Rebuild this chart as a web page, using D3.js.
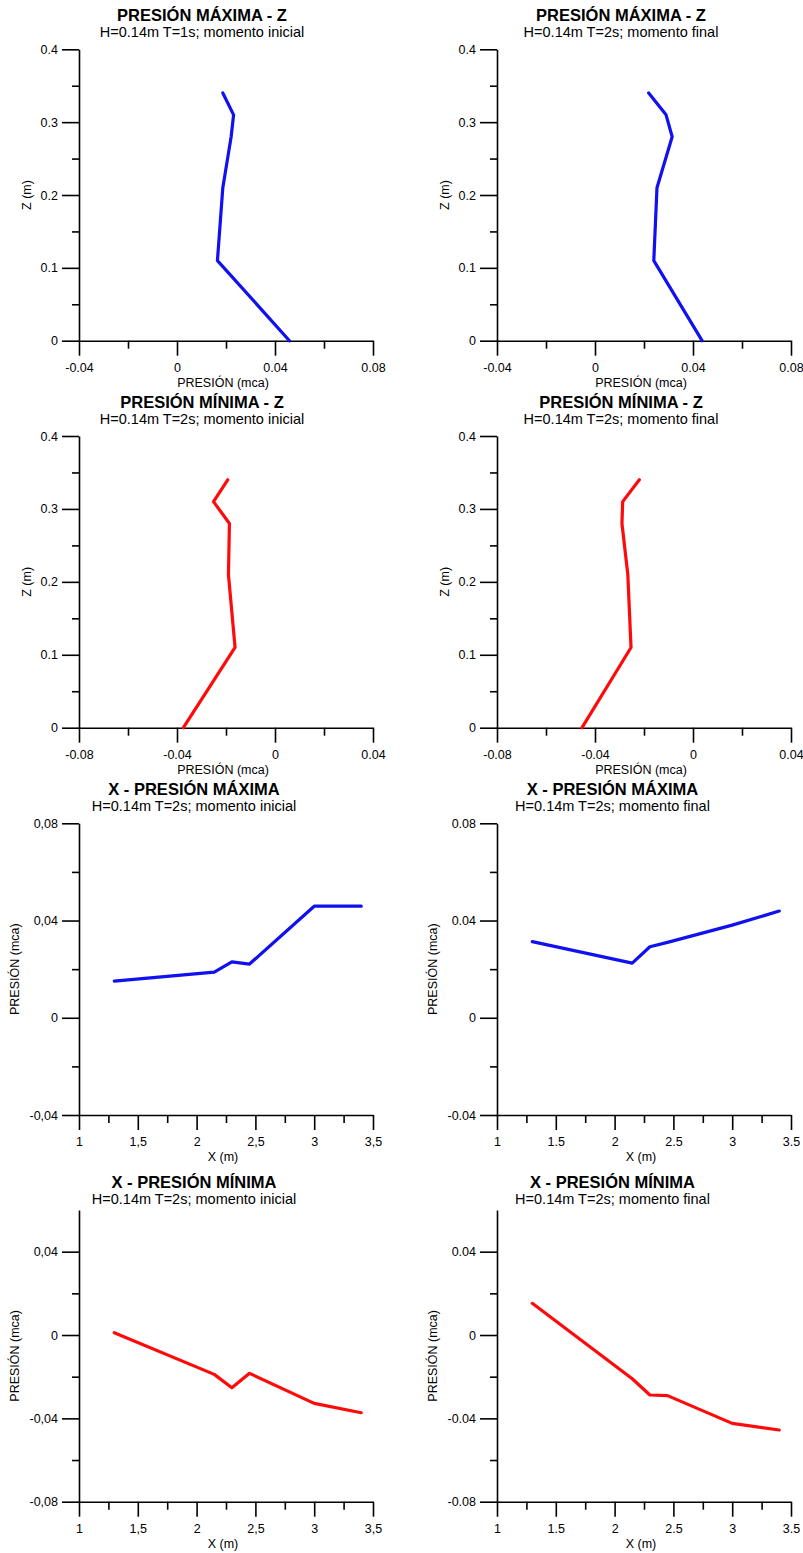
<!DOCTYPE html>
<html>
<head>
<meta charset="utf-8">
<script src="https://cdn.jsdelivr.net/npm/d3@7"></script>
<style>
  html, body { margin: 0; padding: 0; background: #fff; }
  svg { display: block; }
  text { font-family: "Liberation Sans", Arial, sans-serif; fill: #000; }
</style>
</head>
<body>
<svg id="chart" width="803" height="1553"></svg>
<script>
// ---------------- DATA ----------------
// Vertical profiles (Z in m) — pressure in mca
const zLevels = [0, 0.11, 0.21, 0.28, 0.31, 0.34];
const pMaxZInicial = [0.0459, 0.0165, 0.0187, 0.0221, 0.0231, 0.0187];
const pMaxZFinal   = [0.0437, 0.0240, 0.0253, 0.0315, 0.0290, 0.0219];
const pMinZInicial = [-0.0374, -0.0163, -0.0190, -0.0186, -0.0251, -0.0193];
const pMinZFinal   = [-0.0453, -0.0253, -0.0266, -0.0290, -0.0287, -0.0219];

// Horizontal profiles (X in m) — pressure in mca
const xPositions  = [1.3, 2.15, 2.3, 2.45, 3.0, 3.4];
const xMaxInicial = [0.0151, 0.0188, 0.0230, 0.0221, 0.0459, 0.0459];
const xMaxFinal   = [0.0313, 0.0225, 0.0292, 0.0310, 0.0381, 0.0439];
const xMinInicial = [0.0011, -0.0189, -0.0253, -0.0184, -0.0328, -0.0373];
const xMinFinal   = [0.0152, -0.0210, -0.0288, -0.0291, -0.0424, -0.0456];

// Titles
const titles = [
  "PRESIÓN MÁXIMA - Z", "PRESIÓN MÁXIMA - Z",
  "PRESIÓN MÍNIMA - Z", "PRESIÓN MÍNIMA - Z",
  "X - PRESIÓN MÁXIMA", "X - PRESIÓN MÁXIMA",
  "X - PRESIÓN MÍNIMA", "X - PRESIÓN MÍNIMA"
];
const subtitles = [
  "H=0.14m T=1s; momento inicial", "H=0.14m T=2s; momento final",
  "H=0.14m T=2s; momento inicial", "H=0.14m T=2s; momento final",
  "H=0.14m T=2s; momento inicial", "H=0.14m T=2s; momento final",
  "H=0.14m T=2s; momento inicial", "H=0.14m T=2s; momento final"
];
const xAxisTitles = ["PRESIÓN (mca)", "PRESIÓN (mca)", "X (m)", "X (m)"];
const yAxisTitles = ["Z (m)", "Z (m)", "PRESIÓN (mca)", "PRESIÓN (mca)"];

// Ticks
const zTicks = [0, 0.1, 0.2, 0.3, 0.4];
const zTickLabels = ["0", "0.1", "0.2", "0.3", "0.4"];
const zMinorTicks = [0.05, 0.15, 0.25, 0.35];

const pMaxTicks = [-0.04, 0, 0.04, 0.08];
const pMaxTickLabels = ["-0.04", "0", "0.04", "0.08"];
const pMaxTickLabelsComma = ["-0,04", "0", "0,04", "0,08"];
const pMaxMinorTicks = [-0.02, 0.02, 0.06];

const pMinTicks = [-0.08, -0.04, 0, 0.04];
const pMinTickLabels = ["-0.08", "-0.04", "0", "0.04"];
const pMinTickLabelsComma = ["-0,08", "-0,04", "0", "0,04"];
const pMinMinorTicks = [-0.06, -0.02, 0.02];

const xTicks = [1, 1.5, 2, 2.5, 3, 3.5];
const xTickLabels = ["1", "1.5", "2", "2.5", "3", "3.5"];
const xTickLabelsComma = ["1", "1,5", "2", "2,5", "3", "3,5"];
const xMinorTicks = [1.25, 1.75, 2.25, 2.75, 3.25];

// ---------------- LAYOUT ----------------
const colX = [[79, 373], [497, 791]];
const rowY = [[49.3, 340.7], [436, 727.7], [823.3, 1115], [1210, 1501.7]];
const titleCX = [[202, 621], [202, 621], [194, 612.5], [194, 612.5]];
const titleOff = [[-28.5, -12.5], [-28.5, -12.5], [-28.5, -12.5], [-22.3, -5.7]];
const yTitleOff = [52, 52, 64, 64];

const svg = d3.select("#chart");

function panel(i) {
  const row = Math.floor(i / 2), col = i % 2;
  const [x0, x1] = colX[col];
  const [yB0, yT0] = [rowY[row][1], rowY[row][0]];
  let xDom, yDom, xT, xTL, xMin, yT, yTL, yMin, xs, ys, color;
  const comma = col === 0 && row >= 2;
  if (row === 0) {
    xDom = [-0.04, 0.08]; yDom = [0, 0.4];
    xT = pMaxTicks; xTL = pMaxTickLabels; xMin = pMaxMinorTicks;
    yT = zTicks; yTL = zTickLabels; yMin = zMinorTicks;
    xs = col === 0 ? pMaxZInicial : pMaxZFinal; ys = zLevels; color = "#1010f0";
  } else if (row === 1) {
    xDom = [-0.08, 0.04]; yDom = [0, 0.4];
    xT = pMinTicks; xTL = pMinTickLabels; xMin = pMinMinorTicks;
    yT = zTicks; yTL = zTickLabels; yMin = zMinorTicks;
    xs = col === 0 ? pMinZInicial : pMinZFinal; ys = zLevels; color = "#ff0a0a";
  } else if (row === 2) {
    xDom = [1, 3.5]; yDom = [-0.04, 0.08];
    xT = xTicks; xTL = comma ? xTickLabelsComma : xTickLabels; xMin = xMinorTicks;
    yT = pMaxTicks; yTL = comma ? pMaxTickLabelsComma : pMaxTickLabels; yMin = pMaxMinorTicks;
    xs = xPositions; ys = col === 0 ? xMaxInicial : xMaxFinal; color = "#1010f0";
  } else {
    xDom = [1, 3.5]; yDom = [-0.08, 0.06];
    xT = xTicks; xTL = comma ? xTickLabelsComma : xTickLabels; xMin = xMinorTicks;
    yT = pMinTicks; yTL = comma ? pMinTickLabelsComma : pMinTickLabels; yMin = pMinMinorTicks;
    xs = xPositions; ys = col === 0 ? xMinInicial : xMinFinal; color = "#ff0a0a";
  }
  const x = d3.scaleLinear().domain(xDom).range([x0, x1]);
  const y = d3.scaleLinear().domain(yDom).range([yB0, yT0]);
  const g = svg.append("g");

  // minor ticks
  const gxm = g.append("g").attr("transform", `translate(0,${yB0})`)
    .call(d3.axisBottom(x).tickValues(xMin).tickSize(8).tickFormat(""));
  gxm.select(".domain").remove();
  const gym = g.append("g").attr("transform", `translate(${x0},0)`)
    .call(d3.axisLeft(y).tickValues(yMin).tickSize(7).tickFormat(""));
  gym.select(".domain").remove();

  // major axes
  const gx = g.append("g").attr("transform", `translate(0,${yB0})`)
    .call(d3.axisBottom(x).tickValues(xT).tickSize(15).tickSizeOuter(0)
      .tickPadding(7).tickFormat((d, k) => xTL[k]));
  const gy = g.append("g").attr("transform", `translate(${x0},0)`)
    .call(d3.axisLeft(y).tickValues(yT).tickSize(17).tickSizeOuter(0)
      .tickPadding(4).tickFormat((d, k) => yTL[k]));
  g.selectAll(".domain, .tick line").attr("stroke", "#000").attr("stroke-width", 1.6);
  g.selectAll(".tick text").attr("font-size", 12.5).attr("font-family", "'Liberation Sans', Arial, sans-serif").attr("fill", "#111");

  // line
  const pts = xs.map((v, k) => [v, ys[k]]);
  g.append("path").datum(pts)
    .attr("fill", "none").attr("stroke", color).attr("stroke-width", 3.2)
    .attr("stroke-linejoin", "round").attr("stroke-linecap", "round")
    .attr("d", d3.line().x(d => x(d[0])).y(d => y(d[1])));

  // titles
  const tcx = titleCX[row][col];
  g.append("text").attr("x", tcx).attr("y", yT0 + titleOff[row][0])
    .attr("text-anchor", "middle").attr("font-weight", "bold").attr("font-size", 16.5)
    .text(titles[i]);
  g.append("text").attr("x", tcx).attr("y", yT0 + titleOff[row][1])
    .attr("text-anchor", "middle").attr("font-size", 14.5).attr("fill", "#111")
    .text(subtitles[i]);

  // axis titles
  g.append("text").attr("x", (x0 + x1) / 2 - 3).attr("y", yB0 + 46)
    .attr("text-anchor", "middle").attr("font-size", 12.5).attr("fill", "#111")
    .text(xAxisTitles[row]);
  const ycx = x0 - yTitleOff[row], ycy = (yB0 + yT0) / 2;
  g.append("text").attr("transform", `translate(${ycx},${ycy}) rotate(-90)`)
    .attr("text-anchor", "middle").attr("dy", "0.35em").attr("font-size", 12.5).attr("fill", "#111")
    .text(yAxisTitles[row]);
}

for (let i = 0; i < 8; i++) panel(i);
</script>
</body>
</html>
